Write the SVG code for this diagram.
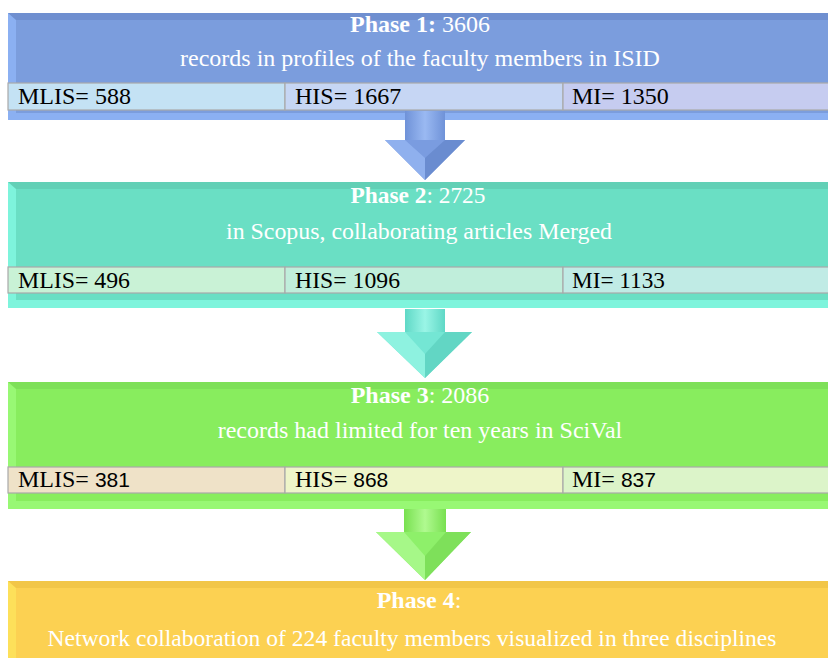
<svg xmlns="http://www.w3.org/2000/svg" width="828" height="658" viewBox="0 0 828 658">
<defs>
<style>
.ph{font-family:"Liberation Serif","Times New Roman",serif;font-size:24px;fill:#ffffff;text-anchor:middle}
.b{font-weight:bold}
.cell{font-family:"Liberation Serif","Times New Roman",serif;font-size:24px;fill:#000000}
.sans{font-family:"Liberation Sans",Arial,sans-serif;font-size:21px}
.cb{stroke:#a9a9a9;stroke-width:1.2}
</style>
<linearGradient id="gBlue" x1="0" y1="0" x2="1" y2="0"><stop offset="0" stop-color="#6f92d8"/><stop offset="0.5" stop-color="#9ab9f2"/><stop offset="1" stop-color="#6f92d8"/></linearGradient>
<linearGradient id="gTeal" x1="0" y1="0" x2="1" y2="0"><stop offset="0" stop-color="#5fd8c6"/><stop offset="0.5" stop-color="#9af5e6"/><stop offset="1" stop-color="#5fd8c6"/></linearGradient>
<linearGradient id="gGreen" x1="0" y1="0" x2="1" y2="0"><stop offset="0" stop-color="#78e050"/><stop offset="0.5" stop-color="#b0fa90"/><stop offset="1" stop-color="#78e050"/></linearGradient>
</defs>

<g id="phase1">
<rect x="8" y="13" width="830" height="107" fill="#8bb0f2"/>
<rect x="16" y="20" width="822" height="93" fill="#7b9ddd"/>
<polygon points="8,13 838,13 838,20 16,20" fill="#6f8fd0"/>
<text class="ph" x="420" y="32"><tspan class="b">Phase 1:</tspan> 3606</text>
<text class="ph" x="420" y="66">records in profiles of the faculty members in ISID</text>
<rect class="cb" x="8" y="83" width="277" height="27" fill="#c4e2f4"/>
<rect class="cb" x="285" y="83" width="278" height="27" fill="#c6d6f4"/>
<rect class="cb" x="563" y="83" width="270" height="27" fill="#c6ccf0"/>
<text class="cell" x="18" y="104">MLIS= 588</text>
<text class="cell" x="295" y="104">HIS= 1667</text>
<text class="cell" x="572" y="104">MI= 1350</text>
</g>

<g id="phase2">
<rect x="8" y="182" width="830" height="126" fill="#7ef4dc"/>
<rect x="16" y="189" width="822" height="111" fill="#6adfc4"/>
<polygon points="8,182 838,182 838,189 16,189" fill="#62d0b6"/>
<text class="ph" x="418" y="203" textLength="135" lengthAdjust="spacingAndGlyphs"><tspan class="b">Phase 2</tspan>: 2725</text>
<text class="ph" x="419" y="239" textLength="386" lengthAdjust="spacingAndGlyphs">in Scopus, collaborating articles Merged</text>
<rect class="cb" x="8" y="267" width="277" height="26" fill="#c9f2d6"/>
<rect class="cb" x="285" y="267" width="278" height="26" fill="#c0eedb"/>
<rect class="cb" x="563" y="267" width="270" height="26" fill="#c0ebe5"/>
<text class="cell" x="18" y="288" textLength="112" lengthAdjust="spacingAndGlyphs">MLIS= 496</text>
<text class="cell" x="295" y="288" textLength="105" lengthAdjust="spacingAndGlyphs">HIS= 1096</text>
<text class="cell" x="572" y="288" textLength="93" lengthAdjust="spacingAndGlyphs">MI= 1133</text>
</g>

<g id="phase3">
<rect x="8" y="382" width="830" height="127" fill="#98f874"/>
<rect x="16" y="389" width="822" height="112" fill="#88ed5e"/>
<polygon points="8,382 838,382 838,389 16,389" fill="#7ee058"/>
<text class="ph" x="420" y="403"><tspan class="b">Phase 3</tspan>: 2086</text>
<text class="ph" x="420" y="438">records had limited for ten years in SciVal</text>
<rect class="cb" x="8" y="467" width="277" height="26" fill="#efe2c8"/>
<rect class="cb" x="285" y="467" width="278" height="26" fill="#eef5c9"/>
<rect class="cb" x="563" y="467" width="270" height="26" fill="#dcf4c9"/>
<text class="cell" x="18" y="487">MLIS= <tspan class="sans">381</tspan></text>
<text class="cell" x="295" y="487">HIS= <tspan class="sans">868</tspan></text>
<text class="cell" x="572" y="487">MI= <tspan class="sans">837</tspan></text>
</g>

<g id="phase4">
<rect x="8" y="581" width="830" height="90" fill="#fde05a"/>
<rect x="16" y="588" width="822" height="80" fill="#fcd152"/>
<polygon points="8,581 838,581 838,588 16,588" fill="#f2c648"/>
<text class="ph" x="419" y="608"><tspan class="b">Phase 4</tspan>:</text>
<text class="ph" x="412" y="646" textLength="729" lengthAdjust="spacingAndGlyphs">Network collaboration of 224 faculty members visualized in three disciplines</text>
</g>

<g id="connectors">
<g id="arrow1">
<rect x="405" y="111" width="40" height="30" fill="url(#gBlue)"/>
<polygon points="385,140 465,140 425,180" fill="#7a9ce0"/>
<polygon points="385,140 405,140 425,158 425,180" fill="#8fb0ee"/>
<polygon points="465,140 445,140 425,158 425,180" fill="#6a8cd0"/>
</g>
<g id="arrow2">
<rect x="405" y="309" width="40" height="24" fill="url(#gTeal)"/>
<polygon points="377,332 472,332 425,378" fill="#74e6d4"/>
<polygon points="377,332 405,332 425,354 425,378" fill="#8ef2e0"/>
<polygon points="472,332 445,332 425,354 425,378" fill="#62d6c4"/>
</g>
<g id="arrow3">
<rect x="404" y="509" width="42" height="24" fill="url(#gGreen)"/>
<polygon points="376,532 471,532 425,580" fill="#8ef06a"/>
<polygon points="376,532 404,532 425,556 425,580" fill="#a6f888"/>
<polygon points="471,532 446,532 425,556 425,580" fill="#7ee05a"/>
</g>
</g>
</svg>
